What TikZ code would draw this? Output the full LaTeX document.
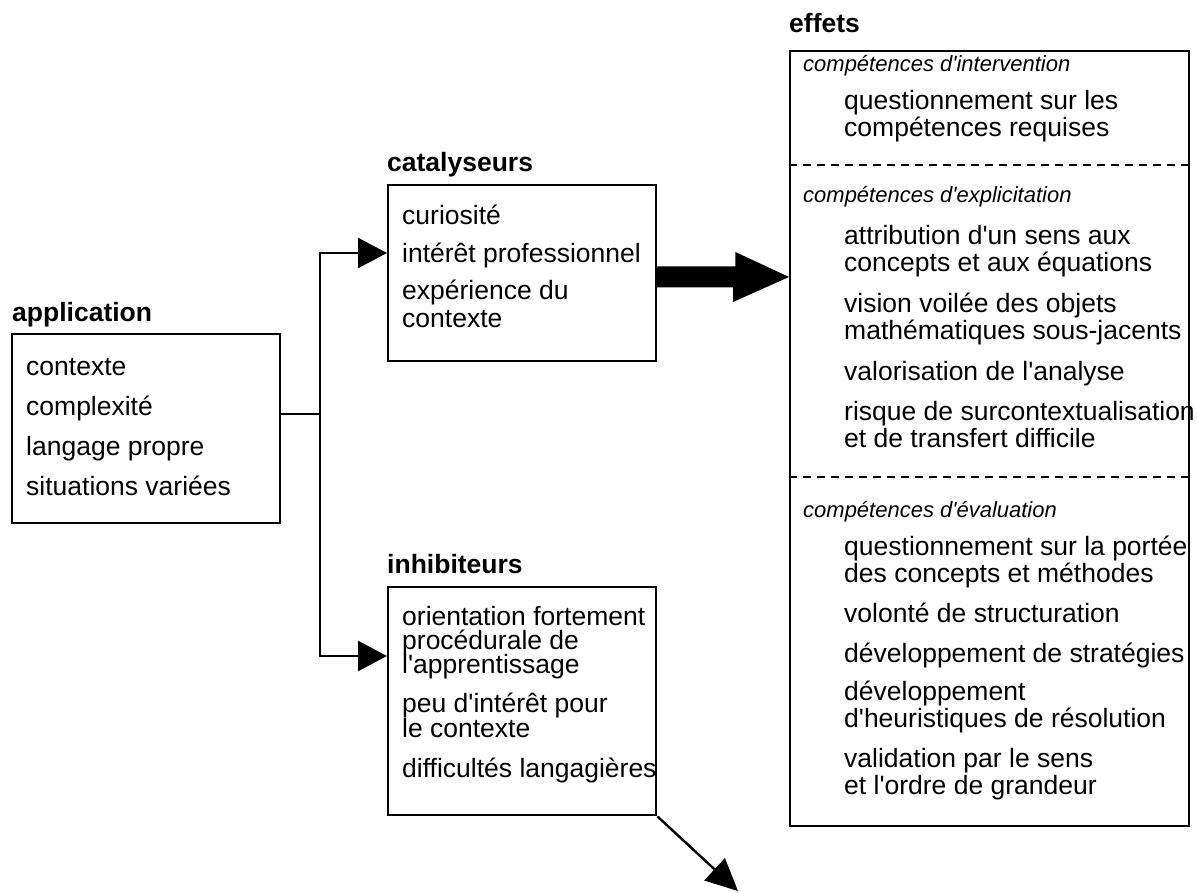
\documentclass[tikz,border=0pt]{standalone}
\usepackage{fontspec}
\setmainfont{Liberation Sans}[Ligatures=TeXOff]
\usetikzlibrary{arrows.meta,calc}
\begin{document}
\begin{tikzpicture}[x=1pt,y=-1pt,
  box/.style={draw, line width=2.4pt, inner sep=0pt, anchor=north west},
  txt/.style={anchor=base west, inner sep=0pt, font=\fontsize{26.5pt}{27pt}\selectfont},
  ttl/.style={anchor=base west, inner sep=0pt, font=\fontsize{26.5pt}{27pt}\selectfont\bfseries},
  sublabel/.style={anchor=base west, inner sep=0pt, font=\fontsize{22pt}{24pt}\selectfont\itshape},
  conn/.style={line width=2.4pt},
  tip/.style={-{Triangle[length=29pt,width=30pt]}},
  sep/.style={line width=1.2pt, dash pattern=on 8pt off 6pt}
]
\useasboundingbox (0,0) rectangle (1197,893);

% frames
\node[box, minimum width=268pt, minimum height=189pt] (app) at (11,333) {};
\node[box, minimum width=268pt, minimum height=176pt] (cat) at (387,184) {};
\node[box, minimum width=268pt, minimum height=228pt] (inh) at (387,586) {};
\node[box, minimum width=399pt, minimum height=775pt] (eff) at (789,50) {};

% headings
\node[ttl] (app-title) at (12,322) {application};
\node[ttl] (cat-title) at (387,172) {catalyseurs};
\node[ttl] (inh-title) at (387,573) {inhibiteurs};
\node[ttl] (eff-title) at (789,33) {effets};

% application
\foreach \y/\t [count=\i] in {375/contexte, 415/complexité, 455/langage propre, 495/situations variées}
  \node[txt] (app-\i) at (26,\y) {\t};

% catalyseurs
\foreach \y/\t [count=\i] in {225/curiosité, 263/intérêt professionnel, 300/expérience du, 327/contexte}
  \node[txt] (cat-\i) at (402,\y) {\t};

% inhibiteurs
\foreach \y/\t [count=\i] in {625/orientation fortement, 649/procédurale de, 673/l'apprentissage,
    712/peu d'intérêt pour, 737/le contexte, 777/difficultés langagières}
  \node[txt] (inh-\i) at (402,\y) {\t};

% effets: group labels
\node[sublabel] (eff-g1) at (803,72) {compétences d'intervention};
\node[sublabel] (eff-g2) at (803,203) {compétences d'explicitation};
\node[sublabel] (eff-g3) at (803,517) {compétences d'évaluation};

% effets: items
\foreach \y/\t [count=\i] in {110/questionnement sur les, 137/compétences requises,
    245/attribution d'un sens aux, 272/concepts et aux équations,
    313/vision voilée des objets, 340/mathématiques sous-jacents,
    380/valorisation de l'analyse,
    420/risque de surcontextualisation, 447/et de transfert difficile,
    555/questionnement sur la portée, 582/des concepts et méthodes,
    622/volonté de structuration,
    662/développement de stratégies,
    700/développement, 727/d'heuristiques de résolution,
    767/validation par le sens, 794/et l'ordre de grandeur}
  \node[txt] (eff-\i) at (844,\y) {\t};

% separators
\draw[sep] (eff.west |- 0,165) -- (eff.east |- 0,165);
\draw[sep] (eff.west |- 0,477) -- (eff.east |- 0,477);

% connectors
\coordinate (split) at (320,414);
\coordinate (catin) at (cat.west |- 0,253);
\coordinate (inhin) at (inh.west |- 0,656);
\draw[conn] (app.east |- split) -- (split);
\draw[conn, tip] (split) |- (catin);
\draw[conn, tip] (split) |- (inhin);

% broad arrow towards effets
\coordinate (bigS) at (cat.east |- 0,277);
\fill (bigS) ++(0,-10.5) -- ++(78,0) -- ++(0,-14.5) -- (eff.west |- bigS)
  -- ++(-56,25) -- ++(0,-14.5) -- ++(-78,0) -- cycle;

% outgoing arrow
\coordinate (out) at (738,891);
\draw[conn, -{Triangle[length=32pt,width=30pt]}] (inh.south east) -- (out);
\end{tikzpicture}
\end{document}
